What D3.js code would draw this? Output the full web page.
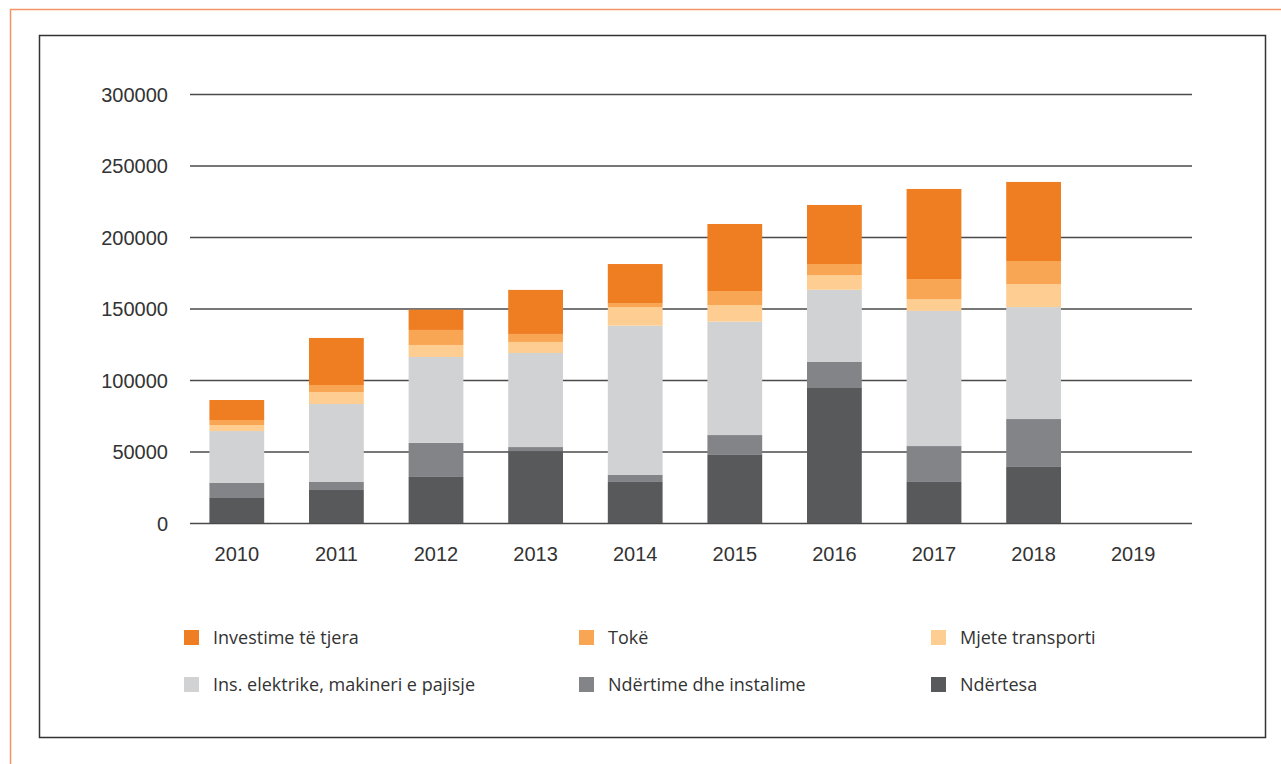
<!DOCTYPE html>
<html>
  <head>
    <meta charset="utf-8">
    <title></title>
  </head>
  <style>
  body{
      font-family: "Open Sans", "Noto Sans", sans-serif;
      background-color: #fff;
      margin:0;
      padding:0
  }
  svg { display: block }
  .axis path { display: none }
  .axis .tick line { opacity: 0 }
  .axis .tick text { fill: #333; font-size: 20px }
  #grid line { stroke: #4a4a4a; stroke-width: 1.3 }
  #grid path { display: none }
  .legend text { fill: #333; font-size: 18px }
  </style>
  <script src="https://d3js.org/d3.v7.min.js"></script>
  <body>
    <script>
    // data
    var years = ["2010","2011","2012","2013","2014","2015","2016","2017","2018","2019"]
    var ndertesa  = [17500, 23100, 32200, 50300, 28700, 47600, 94400, 28700, 39200, 0]
    var ndertime  = [10500,  5600, 23800,  2800,  4900, 13900, 18200, 25100, 33500, 0]
    var insElekt  = [36300, 54500, 60100, 65800,104400, 79300, 50500, 94500, 78300, 0]
    var mjete     = [ 4200,  8400,  8400,  7700, 13000, 11600, 10300,  8300, 16100, 0]
    var toke      = [ 3500,  4900, 10500,  5600,  2800,  9800,  7700, 14000, 16100, 0]
    var investime = [14000, 32900, 14200, 30800, 27300, 46900, 41300, 63000, 55300, 0]
    var yTicks = [0, 50000, 100000, 150000, 200000, 250000, 300000]

    var seriesNames = ["Ndërtesa", "Ndërtime dhe instalime", "Ins. elektrike, makineri e pajisje",
                       "Mjete transporti", "Tokë", "Investime të tjera"]
    var seriesValues = [ndertesa, ndertime, insElekt, mjete, toke, investime]
    var colors = ["#58595b", "#838488", "#d1d2d4", "#fdcd92", "#f9a654", "#ef7d22"]

    // build table for the stack
    var table = years.map(function(y, i){
        var row = { year: y }
        seriesNames.forEach(function(s, j){ row[s] = seriesValues[j][i] })
        return row
    })

    var W = 1281, H = 764

    var svg = d3.select("body")
                .append("svg")
                .attr("width", W)
                .attr("height", H)

    // outer orange frame
    svg.append("path")
       .attr("d", "M10.5," + H + "V9.5H" + W)
       .attr("fill", "none")
       .attr("stroke", "#f39468")
       .attr("stroke-width", 1.5)

    // inner box
    svg.append("rect")
       .attr("x", 39.5).attr("y", 35.5)
       .attr("width", 1226).attr("height", 702)
       .attr("fill", "none")
       .attr("stroke", "#333")
       .attr("stroke-width", 1.5)

    var plot = { left: 190, right: 1192, top: 94, bottom: 523 }

    var yScale = d3.scaleLinear()
                   .domain([0, 300000])
                   .range([plot.bottom, plot.top])

    var xScale = d3.scaleBand()
                   .domain(years)
                   .range([187, 1183])
                   .paddingInner(0.45)
                   .paddingOuter(0.225)

    // gridlines
    svg.append("g")
       .attr("id", "grid")
       .attr("transform", "translate(" + plot.left + ",0)")
       .call(d3.axisLeft(yScale).tickValues(yTicks).tickSize(-(plot.right - plot.left)).tickFormat(""))

    // y axis labels
    svg.append("g")
       .attr("class", "axis")
       .attr("transform", "translate(176,1)")
       .call(d3.axisLeft(yScale).tickValues(yTicks).tickSize(0).tickPadding(8).tickFormat(d3.format("d")))

    // stacked bars
    var stack = d3.stack().keys(seriesNames)(table)

    svg.append("g").selectAll("g")
       .data(stack)
       .enter()
       .append("g")
       .attr("fill", function(d, i){ return colors[i] })
       .selectAll("rect")
       .data(function(d){ return d })
       .enter()
       .append("rect")
       .attr("x", function(d){ return xScale(d.data.year) })
       .attr("width", xScale.bandwidth())
       .attr("y", function(d){ return yScale(d[1]) })
       .attr("height", function(d){ return yScale(d[0]) - yScale(d[1]) })

    // x axis labels
    svg.append("g")
       .attr("class", "axis")
       .attr("transform", "translate(0," + plot.bottom + ")")
       .call(d3.axisBottom(xScale).tickSize(0).tickPadding(24))

    // legend
    var legendOrder = [5, 4, 3, 2, 1, 0]
    var legendX = [184, 579, 931]
    var legendY = [630, 677]

    var legend = svg.append("g").attr("class", "legend")
                    .selectAll("g")
                    .data(legendOrder)
                    .enter()
                    .append("g")
                    .attr("transform", function(d, i){
                        return "translate(" + legendX[i % 3] + "," + legendY[Math.floor(i / 3)] + ")"
                    })

    legend.append("rect")
          .attr("width", 15)
          .attr("height", 15)
          .attr("fill", function(d){ return colors[d] })

    legend.append("text")
          .attr("x", 29)
          .attr("y", 8)
          .attr("dy", "0.35em")
          .text(function(d){ return seriesNames[d] })
    </script>
  </body>
</html>
